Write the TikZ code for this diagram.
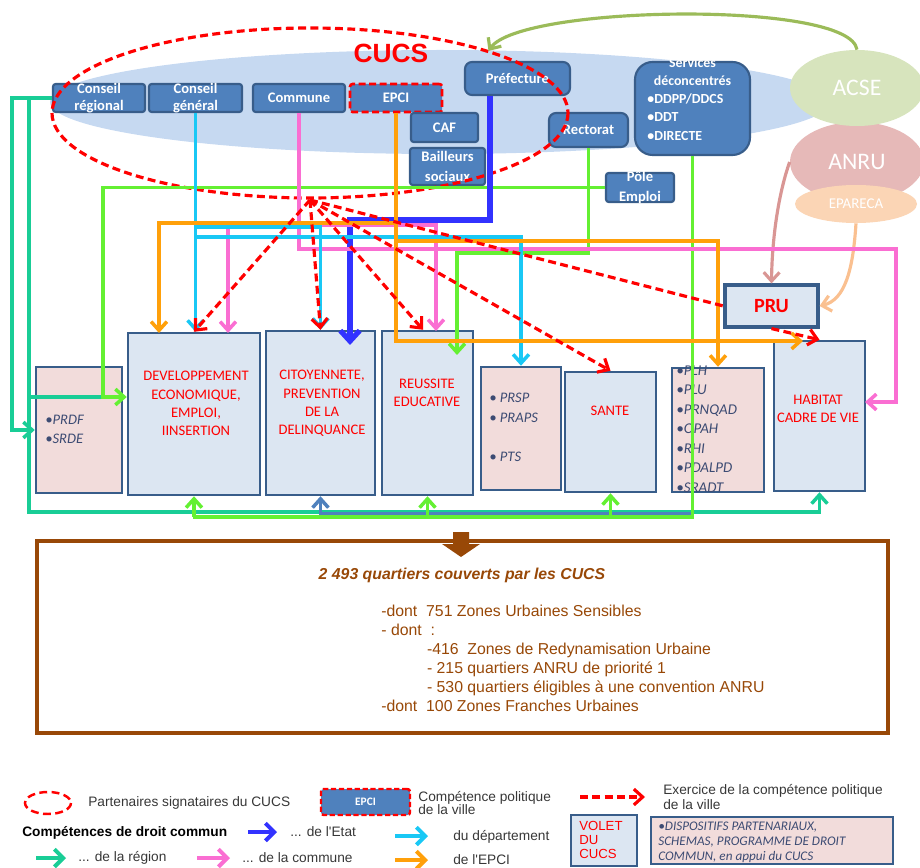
\documentclass[tikz,border=0pt]{standalone}
\usepackage{fontspec}
\setmainfont{Carlito}
\newfontfamily\arialfont{Liberation Sans}
\usetikzlibrary{arrows.meta,shapes.geometric,positioning}

\definecolor{boxblue}{RGB}{79,129,189}
\definecolor{boxedge}{RGB}{56,93,138}
\definecolor{paleblue}{RGB}{220,230,242}
\definecolor{palepink}{RGB}{242,220,219}
\definecolor{cloud}{RGB}{198,217,241}
\definecolor{slate}{RGB}{60,75,115}
\definecolor{regteal}{RGB}{25,205,150}
\definecolor{depcyan}{RGB}{25,200,245}
\definecolor{compink}{RGB}{250,110,210}
\definecolor{epciorange}{RGB}{255,160,10}
\definecolor{etatblue}{RGB}{50,50,255}
\definecolor{brightgreen}{RGB}{100,240,50}
\definecolor{acsegreen}{RGB}{215,228,189}
\definecolor{anrupink}{RGB}{230,185,184}
\definecolor{eparpeach}{RGB}{251,213,181}
\definecolor{acseline}{RGB}{155,187,89}
\definecolor{anruline}{RGB}{217,150,148}
\definecolor{eparline}{RGB}{250,192,144}
\definecolor{brownbox}{RGB}{152,72,7}
\definecolor{legendgray}{RGB}{55,55,55}

\tikzset{
  boxsize/.style 2 args={minimum width=#1*0.02cm, minimum height=#2*0.02cm},
  topbox/.style={draw=boxedge, fill=boxblue, line width=1.2pt, rounded corners=1.5pt, inner sep=0pt},
  toptext/.style={text=white, font=\fontsize{8.3}{9.8}\selectfont\bfseries, align=center, inner sep=0pt},
  bodybox/.style={draw=boxedge, fill=paleblue, line width=1.4pt, inner sep=0pt},
  listbox/.style={bodybox, fill=palepink},
  bodytext/.style={text=red, font=\fontsize{8.3}{10.4}\selectfont, align=center, inner sep=0pt},
  listtext/.style={text=slate, font=\fontsize{8.3}{11.2}\selectfont\itshape, align=left, inner sep=0pt, anchor=west},
  wire/.style={line width=2pt},
  regline/.style={wire, draw=regteal},
  depline/.style={wire, draw=depcyan},
  comline/.style={wire, draw=compink},
  epciline/.style={wire, draw=epciorange},
  etatline/.style={line width=3pt, draw=etatblue, -{Straight Barb[length=6pt,width=11pt]}},
  greenline/.style={wire, draw=brightgreen},
  steelline/.style={wire, draw=boxblue},
  policy/.style={draw=red, line width=1.8pt, dash pattern=on 4.5pt off 2.5pt},
  legtext/.style={text=legendgray, font=\fontsize{7.8}{7.6}\arialfont, align=left, anchor=west, inner sep=0pt},
  legarrow/.style={line width=2.3pt, -{Straight Barb[length=5pt,width=10pt]}},
}

\begin{document}
\begin{tikzpicture}[x=0.02cm, y=-0.02cm, >={Straight Barb[length=5pt,width=9pt]}]
\useasboundingbox (0,0) rectangle (920,868);

% partenaires
\fill[cloud] (440,102) ellipse [x radius=390, y radius=52];
\node[text=red, font=\fontsize{15}{15}\arialfont\bfseries] (cucs) at (391,53) {CUCS};

\node[topbox, boxsize={92}{28}] (creg) at (99,98) {};
\node[toptext] (creg-t) at (creg) {Conseil\\régional};
\node[topbox, boxsize={93}{28}] (cgen) at (195.5,98) {};
\node[toptext] (cgen-t) at (cgen) {Conseil\\général};
\node[topbox, boxsize={92}{28}, toptext] (comm) at (299,98) {Commune};
\node[topbox, boxsize={92}{28}, toptext, draw=red, line width=1.5pt, dash pattern=on 4pt off 2pt] (epci) at (396,98) {EPCI};
\node[topbox, boxsize={67}{29}, toptext] (caf) at (444.5,127.5) {CAF};
\node[topbox, boxsize={75}{37}] (bail) at (447.5,166.5) {};
\node[toptext, font=\fontsize{8.3}{11}\selectfont\bfseries] (bail-t) at (bail) {Bailleurs\\sociaux};
\node[topbox, boxsize={105}{33}, rounded corners=4pt, toptext] (pref) at (517.5,78.5) {Préfecture};
\node[topbox, boxsize={79}{34}, rounded corners=4pt, toptext] (rect) at (588.5,130) {Rectorat};
\node[topbox, boxsize={115}{93}, rounded corners=10pt] (serv) at (692.5,108.5) {};
\node[toptext, font=\fontsize{7.9}{10.5}\selectfont\bfseries] (serv-h) at (692.5,71.5) {Services\\déconcentrés};
\node[toptext, font=\fontsize{7.9}{10.5}\selectfont\bfseries, align=left, anchor=west] (serv-l) at (647,117) {\textbullet DDPP/DDCS\\\textbullet DDT\\\textbullet DIRECTE};
\node[topbox, boxsize={68}{29}] (pole) at (640,187.5) {};
\node[toptext, font=\fontsize{8.3}{11}\selectfont\bfseries] (pole-t) at (pole) {Pôle\\Emploi};

\draw[policy] (310,113) ellipse [x radius=258, y radius=85];

\node[ellipse, inner sep=0pt, fill=anrupink, boxsize={134}{80}, text=white, font=\fontsize{13.5}{13.5}\selectfont] (anru) at (857,162) {ANRU};
\node[ellipse, inner sep=0pt, fill=acsegreen, boxsize={134}{76}, text=white, font=\fontsize{13.5}{13.5}\selectfont] (acse) at (857,88) {ACSE};
\node[ellipse, inner sep=0pt, fill=eparpeach, boxsize={122}{38}, text=white, font=\fontsize{8.5}{8.5}\selectfont] (epar) at (856,204) {EPARECA};
\node[bodybox, boxsize={93}{42}, line width=1.8pt, text=red, font=\fontsize{11.5}{11.5}\selectfont\bfseries] (pru) at (771.5,306) {PRU};

\draw[acseline, line width=1.8pt, ->] (acse.north) .. controls (850,0) and (520,5) .. ([shift={(-29,-10)}]pref.north);
\draw[anruline, line width=1.8pt, ->] (anru.west) .. controls (778,195) and (772,240) .. (pru.north);
\draw[eparline, line width=1.8pt, ->] (epar.south) .. controls (853,270) and (845,300) .. (pru.east);

% volets
\node[listbox, boxsize={86}{126}] (prdf) at (79,430) {};
\node[bodybox, boxsize={132}{162}] (dev) at (194,414) {};
\node[bodybox, boxsize={109}{164}] (cit) at (320.5,413) {};
\node[bodybox, boxsize={91}{164}] (reus) at (427.5,413) {};
\node[listbox, boxsize={80}{123}] (prsp) at (521,428.5) {};
\node[bodybox, boxsize={91}{120}] (sante) at (610.5,432) {};
\node[listbox, boxsize={92}{124}] (plh) at (718,430) {};
\node[bodybox, boxsize={91}{150}] (hab) at (819.5,416) {};

\node[bodytext] (dev-t) at (196,403.5) {DEVELOPPEMENT\\ECONOMIQUE,\\EMPLOI,\\IINSERTION};
\node[bodytext] (cit-t) at (322,403.5) {CITOYENNETE,\\PREVENTION\\DE LA\\DELINQUANCE};
\node[bodytext] (reus-t) at (427,393) {REUSSITE\\EDUCATIVE};
\node[bodytext] (sante-t) at (610,411) {SANTE};
\node[bodytext] (hab-t) at (818,409) {HABITAT\\CADRE DE VIE};
\node[listtext] (prdf-t) at (45,429.5) {\textbullet PRDF\\\textbullet SRDE};
\node[listtext] (prsp-t) at (489,427.5) {\textbullet~PRSP\\\textbullet~PRAPS\\[11pt]\textbullet~PTS};
\node[listtext, font=\fontsize{8.5}{11.1}\selectfont\itshape] (plh-t) at (676,429) {\textbullet PLH\\\textbullet PLU\\\textbullet PRNQAD\\\textbullet OPAH\\\textbullet RHI\\\textbullet PDALPD\\\textbullet SRADT};

% droit commun
\draw[regline, ->] (creg.west) -- (12,98) |- (prdf.west);
\draw[regline, ->] (creg.west) -- (29,98) -- (29,512) -| (hab.south);
\draw[regline] (29,397) -- (103,397);

\draw[steelline, ->] (serv.south |- 0,514) -| (cit.south);
\draw[greenline, ->] (pole.west) -| (103,397) -- (dev.west |- 0,397);
\draw[greenline, ->] (rect.south) |- (457,253) -- (457,355);
\draw[greenline] (serv.south) |- (193,517);
\foreach \b in {dev,reus,sante}
  \draw[greenline, ->] (\b.south |- 0,517) -- (\b.south);

\draw[etatline] (pref.south -| 490,0) |- (350,220) -- (350,345);

\draw[comline, ->] (comm.south |- 0,225) -| (228,333);
\draw[comline, ->] (comm.south |- 0,225) -| (436,331);
\draw[comline, ->] (comm.south) |- (896,249) |- (865,402);

\draw[depline, ->] (cgen.south) -- (cgen.south |- dev.north);
\draw[depline, ->] (cgen.south |- 0,227) -| (cit.north);
\draw[depline, ->] (cgen.south |- 0,237) -| (prsp.north);

\draw[epciline, ->] (epci.south |- 0,223) -| (159,333);
\draw[epciline, ->] (epci.south |- 0,241) -| (plh.north);
\draw[epciline, ->] (epci.south) |- (803,341);

% politique de la ville
\coordinate (hub) at (310,200);
\foreach \t in {dev.north,cit.north,sante.north}
  \draw[policy, ->] (hub) -- (\t);
\draw[policy, ->] (hub) -- ([xshift=-0.09cm]reus.north);
\draw[policy] (hub) -- (pru.west);
\draw[policy, ->] (pru.south) -- (hab.north);

% quartiers
\node[draw=brownbox, line width=2pt, boxsize={851}{192}, inner sep=0pt] (stats) at (462.5,637) {};
\fill[brownbox] (453,532) -- (469,532) -- (469,544) -- (480,544) -- (461,557) -- (442,544) -- (453,544) -- cycle;
\node[text=brownbox, font=\fontsize{9}{9}\arialfont\bfseries\itshape] (stats-t) at (462,575) {2 493 quartiers couverts par les CUCS};
\node[text=brownbox, font=\fontsize{9}{10.8}\arialfont, align=left, anchor=west, inner sep=0pt] (stats-l) at (381,658.5)
  {-dont\ \ 751 Zones Urbaines Sensibles\\- dont\ \ :\\\hspace*{26pt}-416\ \ Zones de Redynamisation Urbaine\\\hspace*{26pt}- 215 quartiers ANRU de priorité 1\\\hspace*{26pt}- 530 quartiers éligibles à une convention ANRU\\-dont\ \ 100 Zones Franches Urbaines};

% legende
\draw[policy, line width=1.4pt] (48,803) ellipse [x radius=23, y radius=11];
\node[legtext] (leg-part) at (88,803) {Partenaires signataires du CUCS};
\node[topbox, boxsize={89}{26}, draw=red, line width=1.4pt, dash pattern=on 3pt off 1.5pt, text=white, font=\fontsize{6.5}{6.5}\selectfont\bfseries] (leg-epci) at (365.5,802) {EPCI};
\node[legtext] (leg-comp) at (418,803) {Compétence politique\\de la ville};
\draw[policy, ->] (580,797) -- (645,797);
\node[legtext, font=\fontsize{7.8}{8}\arialfont] (leg-exer) at (663,797) {Exercice de la compétence politique\\de la ville};
\node[legtext, text=black, font=\fontsize{7.8}{7.8}\arialfont\bfseries] (leg-droit) at (22,833) {Compétences de droit commun};
\draw[legarrow, etatblue] (248,832) -- (277,832);
\node[legtext] (leg-etat) at (290,832) {... de l'Etat};
\draw[legarrow, depcyan] (395,836) -- (428,836);
\node[legtext] (leg-dep) at (453,837) {du département};
\draw[legarrow, regteal] (36,858) -- (66,858);
\node[legtext] (leg-reg) at (78,858) {... de la région};
\draw[legarrow, compink] (197,858) -- (230,858);
\node[legtext] (leg-com) at (242,858) {... de la commune};
\draw[legarrow, epciorange] (395,860) -- (428,860);
\node[legtext] (leg-epcil) at (453,860) {de l'EPCI};
\node[bodybox, boxsize={66}{51}, line width=1.6pt] (leg-volet) at (604,840.5) {};
\node[text=red, font=\fontsize{7.5}{8}\arialfont, align=left, anchor=west, inner sep=0pt] (leg-volet-t) at (579,840) {VOLET\\DU\\CUCS};
\node[listbox, boxsize={242}{47}, line width=1.6pt] (leg-disp) at (772,840.5) {};
\node[listtext, font=\fontsize{7.5}{8.6}\selectfont\itshape] (leg-disp-t) at (658,842) {\textbullet DISPOSITIFS PARTENARIAUX,\\SCHEMAS, PROGRAMME DE DROIT\\COMMUN, en appui du CUCS};
\end{tikzpicture}
\end{document}
